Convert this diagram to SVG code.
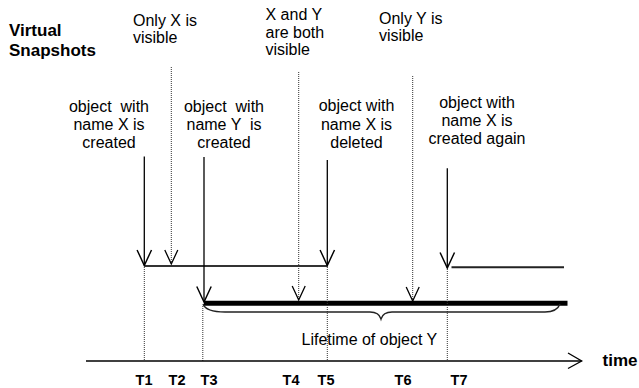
<svg xmlns="http://www.w3.org/2000/svg" width="639" height="388" viewBox="0 0 639 388">
  <style>
    .lbl { font-family: "Liberation Sans", Arial, sans-serif; font-size: 16px; fill: #000; }
    .c { text-anchor: middle; }
    .bold { font-family: "Liberation Sans", Arial, sans-serif; font-weight: bold; fill: #000; }
    .tk { font-size: 14.5px; text-anchor: middle; }
    .arrow { stroke: #000; stroke-width: 1.3; fill: none; marker-end: url(#vhead); }
    .dot { stroke: #333; stroke-width: 1; stroke-dasharray: 1 1; fill: none; }
    .dotarrow { stroke: #333; stroke-width: 1; stroke-dasharray: 1 1; fill: none; }
    .head { stroke: #000; stroke-width: 1.3; fill: none; }
  </style>
  <defs>
    <marker id="vhead" markerUnits="userSpaceOnUse" markerWidth="20" markerHeight="20" viewBox="-16 -8 18 16" refX="0" refY="0" orient="auto">
      <path d="M-14,-6.5 L0,0 L-14,6.5" fill="none" stroke="#000" stroke-width="1.3"/>
    </marker>
  </defs>

  <g id="title">
    <text class="bold" font-size="17" x="9" y="36">Virtual</text>
    <text class="bold" font-size="17" x="9" y="56">Snapshots</text>
  </g>

  <g id="snap-t2">
    <text class="lbl" x="133" y="26">Only X is</text>
    <text class="lbl" x="133" y="43">visible</text>
  </g>
  <g id="snap-t4">
    <text class="lbl" x="265.5" y="20">X and Y</text>
    <text class="lbl" x="265.5" y="37.5">are both</text>
    <text class="lbl" x="265.5" y="55">visible</text>
  </g>
  <g id="snap-t6">
    <text class="lbl" x="379" y="24">Only Y is</text>
    <text class="lbl" x="379" y="41">visible</text>
  </g>

  <g id="event-x-created">
    <text class="lbl c" x="109" y="111.5" xml:space="preserve">object  with</text>
    <text class="lbl c" x="109" y="129.5">name X is</text>
    <text class="lbl c" x="109" y="147.5">created</text>
  </g>
  <g id="event-y-created">
    <text class="lbl c" x="224" y="112" xml:space="preserve">object  with</text>
    <text class="lbl c" x="224" y="130" xml:space="preserve">name Y  is</text>
    <text class="lbl c" x="224" y="148">created</text>
  </g>
  <g id="event-x-deleted">
    <text class="lbl c" x="356.5" y="111">object with</text>
    <text class="lbl c" x="356.5" y="129.5">name X is</text>
    <text class="lbl c" x="356.5" y="148">deleted</text>
  </g>
  <g id="event-x-recreated">
    <text class="lbl c" x="477" y="108">object with</text>
    <text class="lbl c" x="477" y="126">name X is</text>
    <text class="lbl c" x="477" y="144">created again</text>
  </g>

  <g id="lifelines">
    <!-- first life of X -->
    <line x1="144.5" y1="266" x2="327.5" y2="266" stroke="#333" stroke-width="2"/>
    <!-- life of Y -->
    <line x1="204" y1="303.3" x2="567.5" y2="303.3" stroke="#000" stroke-width="5"/>
    <!-- second life of X -->
    <line x1="451.5" y1="267.3" x2="564" y2="267.3" stroke="#222" stroke-width="2"/>
  </g>

  <g id="connectors">
    <!-- event arrows -->
    <line class="arrow" x1="144.3" y1="156.5" x2="144.3" y2="265.5"/>
    <line class="arrow" x1="204" y1="157" x2="204" y2="302"/>
    <line class="arrow" x1="327.3" y1="160" x2="327.3" y2="265.5"/>
    <line class="arrow" x1="447.3" y1="168.3" x2="447.3" y2="268"/>

    <!-- snapshot markers -->
    <line class="dotarrow" x1="171.3" y1="67" x2="171.3" y2="264"/>
    <path class="head" d="M164.8,250 L171.3,264 L177.8,250"/>
    <line class="dotarrow" x1="298.7" y1="72" x2="298.7" y2="300"/>
    <path class="head" d="M292.2,286 L298.7,300 L305.2,286"/>
    <line class="dotarrow" x1="412.7" y1="76" x2="412.7" y2="301"/>
    <path class="head" d="M406.2,287 L412.7,301 L419.2,287"/>

    <!-- drop lines to the time axis -->
    <line class="dot" x1="144.3" y1="267" x2="144.3" y2="361"/>
    <line class="dot" x1="202.8" y1="306" x2="202.8" y2="361"/>
    <line class="dot" x1="327.3" y1="267" x2="327.3" y2="361"/>
    <line class="dot" x1="447.3" y1="269" x2="447.3" y2="361"/>

    <!-- brace under the life of Y -->
    <path d="M203,304 Q206,312 225,312 L370,312 Q379,312 381,319 Q383,312 392,312 L545,312 Q557,312 560,304" fill="none" stroke="#222" stroke-width="1.4"/>

    <!-- time axis -->
    <line x1="86" y1="361" x2="581.5" y2="361" stroke="#000" stroke-width="1.3"/>
    <path class="head" d="M568,353 L581.7,361 L568,368.5"/>
  </g>

  <g id="lifetime-label">
    <text class="lbl" x="301.5" y="345">Lifetime of object Y</text>
  </g>

  <g id="axis-labels">
    <text class="bold" font-size="17" x="602.5" y="366">time</text>
    <text class="bold tk" x="144" y="384.5">T1</text>
    <text class="bold tk" x="177" y="384.5">T2</text>
    <text class="bold tk" x="209" y="384.5">T3</text>
    <text class="bold tk" x="291" y="384.5">T4</text>
    <text class="bold tk" x="326" y="384.5">T5</text>
    <text class="bold tk" x="403" y="384.5">T6</text>
    <text class="bold tk" x="459" y="384.5">T7</text>
  </g>
</svg>
